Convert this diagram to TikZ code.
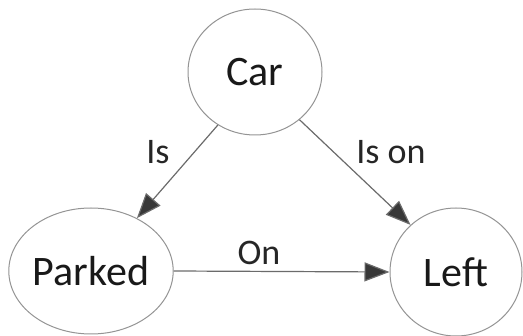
\documentclass[tikz,border=0pt]{standalone}
\usepackage{fontspec}
\setmainfont{Carlito}
\usetikzlibrary{shapes.geometric,arrows.meta}
\tikzset{
  ent/.style={ellipse, draw=black!42, line width=1pt, fill=white, inner sep=0pt, text=black!90, font=\fontsize{42}{46}\selectfont},
  rel/.style={draw=black!58, line width=1.2pt, -{Triangle[length=25pt,width=19pt]}, arrows={[fill=black!78]}},
  lbl/.style={text=black!85, font=\fontsize{36}{40}\selectfont, inner sep=0pt}
}
\begin{document}
\begin{tikzpicture}[x=1pt,y=-1pt]
\useasboundingbox (0,0) rectangle (523,336);
\node[ent, minimum width=134pt, minimum height=126pt] (car) at (255,72) {Car};
\node[ent, minimum width=154pt, minimum height=126pt] (parked) at (91,271) {Parked};
\node[ent, minimum width=132pt, minimum height=128pt] (left) at (456,272) {Left};
\draw[rel] (car.235) -- (parked.49);
\draw[rel] (car.313) -- (left.134);
\draw[rel] (parked.east) -- (left.west);
\node[lbl] (lis) at (158,152) {Is};
\node[lbl] (lison) at (391,152) {Is on};
\node[lbl] (lon) at (259,253) {On};
\end{tikzpicture}
\end{document}
